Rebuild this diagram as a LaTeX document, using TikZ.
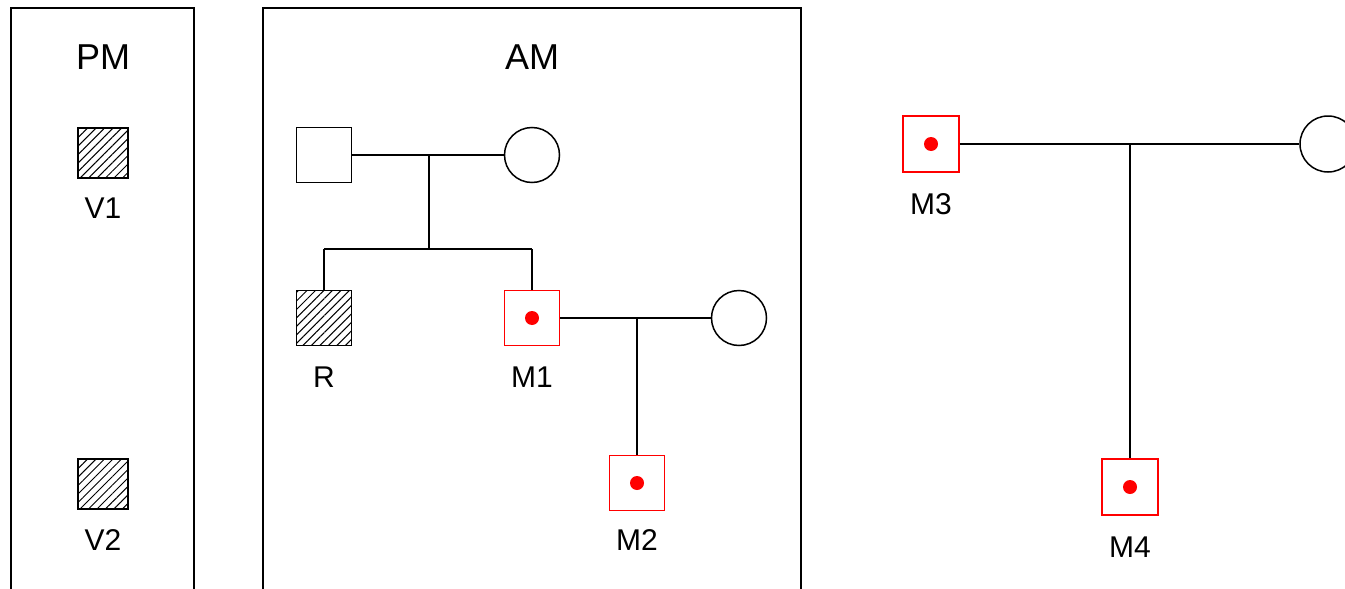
\documentclass[tikz,border=0pt]{standalone}
\usepackage{fontspec}
\setmainfont{Liberation Sans}
\usetikzlibrary{patterns.meta}
\begin{document}
\begin{tikzpicture}[x=1pt,y=-1pt,line width=1.5pt,
  male/.style={draw,rectangle,minimum size=55pt,inner sep=0pt},
  hatched/.style={male,pattern={Lines[angle=45,distance=6pt,line width=1pt]}},
  small/.style={minimum size=50pt},
  carrier/.style={male,draw=red},
  female/.style={draw,circle,minimum size=55pt,inner sep=0pt},
  lbl/.style={font=\fontsize{30}{32}\selectfont,inner sep=0pt},
  title/.style={font=\fontsize{36}{40}\selectfont,inner sep=0pt},
  dot/.style={fill=red,circle,minimum size=14pt,inner sep=0pt}]
\useasboundingbox (0,0) rectangle (1345,589);
\clip (0,0) rectangle (1345,589);
% group boxes
\draw (11,600) -- (11,8) -- (194,8) -- (194,600);
\draw (263,600) -- (263,8) -- (801,8) -- (801,600);
\node[title] (pm) at (103,57) {PM};
\node[title] (am) at (532,57) {AM};
% PM
\node[hatched,small] (v1) at (103,153) {};
\node[lbl] (v1l) at (103,208) {V1};
\node[hatched,small] (v2) at (103,484) {};
\node[lbl] (v2l) at (103,540) {V2};
% AM
\node[male] (f) at (324,155) {};
\node[female] (m) at (532,155) {};
\coordinate (c1) at (429,155);
\coordinate (c1b) at (429,249);
\coordinate (sl) at (324,249);
\coordinate (sr) at (532,249);
\node[hatched] (r) at (324,318) {};
\node[lbl] (rl) at (324,377) {R};
\node[carrier] (m1) at (532,318) {};
\node[dot] at (m1) {};
\node[lbl] (m1l) at (532,377) {M1};
\node[female] (w1) at (739,318) {};
\coordinate (c2) at (637,318);
\node[carrier] (m2) at (637,483) {};
\node[dot] at (m2) {};
\node[lbl] (m2l) at (637,540) {M2};
\draw (f) -- (m);
\draw (c1) -- (c1b);
\draw (sl) -- (sr);
\draw (sl) -- (r);
\draw (sr) -- (m1);
\draw (m1) -- (w1);
\draw (c2) -- (m2);
% right family
\node[carrier,minimum size=56pt] (m3) at (931,144) {};
\node[dot] at (m3) {};
\node[lbl] (m3l) at (931,204) {M3};
\node[female,minimum size=56pt] (w3) at (1328,144) {};
\coordinate (c3) at (1130,144);
\node[carrier,minimum size=56pt] (m4) at (1130,487) {};
\node[dot] at (m4) {};
\node[lbl] (m4l) at (1130,547) {M4};
\draw (m3) -- (w3);
\draw (c3) -- (m4);
\end{tikzpicture}
\end{document}
